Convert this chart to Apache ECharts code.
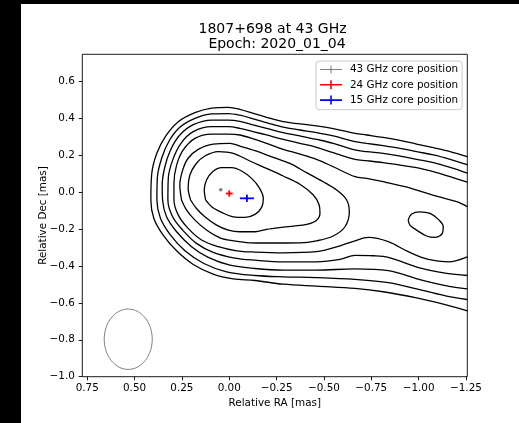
<!DOCTYPE html>
<html><head><meta charset="utf-8">
<script src="https://cdn.jsdelivr.net/npm/echarts@6/dist/echarts.min.js"></script>
<style>
html,body{margin:0;padding:0;background:#000;width:519px;height:423px;overflow:hidden;}
#bg{position:absolute;left:21px;top:4px;width:498px;height:419px;background:#fff;}
#chart{position:absolute;left:0;top:0;width:519px;height:423px;}
</style></head><body>
<div id="bg"></div><div id="chart"></div>
<script>
// ---- data (RA [mas], Dec [mas]) ----
const titleText = '1807+698 at 43 GHz \n Epoch: 2020_01_04';
const xTicks = [0.75, 0.5, 0.25, 0, -0.25, -0.5, -0.75, -1, -1.25];
const yTicks = [-1, -0.8, -0.6, -0.4, -0.2, 0, 0.2, 0.4, 0.6];

const contour1 = [[-1.257,0.192],[-1.166,0.219],[-1.078,0.240],[-0.989,0.260],[-0.901,0.280],[-0.813,0.296],[-0.725,0.309],[-0.664,0.318],[-0.549,0.343],[-0.461,0.358],[-0.373,0.369],[-0.285,0.381],[-0.197,0.405],[-0.136,0.423],[-0.056,0.448],[0.005,0.459],[0.093,0.454],[0.181,0.430],[0.269,0.381],[0.335,0.304],[0.384,0.206],[0.410,0.092],[0.414,-0.043],[0.398,-0.143],[0.349,-0.233],[0.278,-0.318],[0.190,-0.392],[0.085,-0.444],[-0.021,-0.470],[-0.136,-0.479],[-0.285,-0.499],[-0.461,-0.510],[-0.664,-0.522],[-0.813,-0.540],[-0.989,-0.573],[-1.130,-0.607],[-1.257,-0.643]];
const contour2 = [[-1.257,0.148],[-1.166,0.177],[-1.078,0.201],[-0.989,0.219],[-0.901,0.237],[-0.813,0.251],[-0.725,0.264],[-0.664,0.273],[-0.549,0.304],[-0.461,0.322],[-0.373,0.336],[-0.285,0.351],[-0.197,0.376],[-0.136,0.394],[-0.056,0.416],[0.005,0.425],[0.093,0.423],[0.181,0.399],[0.261,0.351],[0.317,0.278],[0.357,0.183],[0.380,0.074],[0.382,-0.043],[0.363,-0.143],[0.310,-0.233],[0.234,-0.318],[0.134,-0.387],[0.014,-0.432],[-0.136,-0.452],[-0.285,-0.459],[-0.461,-0.463],[-0.664,-0.473],[-0.840,-0.491],[-1.016,-0.531],[-1.148,-0.564],[-1.257,-0.582]];
const contour3 = [[-1.257,0.103],[-1.166,0.134],[-1.078,0.159],[-0.989,0.177],[-0.901,0.195],[-0.813,0.210],[-0.725,0.219],[-0.664,0.228],[-0.549,0.264],[-0.461,0.285],[-0.373,0.304],[-0.285,0.322],[-0.197,0.345],[-0.136,0.361],[-0.056,0.383],[0.005,0.390],[0.093,0.390],[0.190,0.365],[0.261,0.309],[0.310,0.228],[0.340,0.137],[0.354,0.038],[0.352,-0.043],[0.331,-0.134],[0.278,-0.215],[0.199,-0.296],[0.111,-0.354],[-0.004,-0.396],[-0.136,-0.414],[-0.285,-0.423],[-0.461,-0.423],[-0.664,-0.416],[-0.840,-0.426],[-1.016,-0.477],[-1.148,-0.508],[-1.257,-0.524]];
const contour4 = [[-1.257,0.054],[-1.166,0.083],[-1.078,0.110],[-0.989,0.132],[-0.901,0.146],[-0.813,0.159],[-0.725,0.170],[-0.664,0.177],[-0.549,0.213],[-0.461,0.242],[-0.373,0.264],[-0.285,0.285],[-0.197,0.309],[-0.136,0.325],[-0.056,0.345],[0.005,0.354],[0.093,0.354],[0.190,0.327],[0.255,0.264],[0.299,0.173],[0.322,0.074],[0.324,-0.043],[0.299,-0.134],[0.246,-0.206],[0.173,-0.278],[0.085,-0.327],[-0.021,-0.356],[-0.136,-0.369],[-0.285,-0.378],[-0.461,-0.378],[-0.585,-0.365],[-0.664,-0.343],[-0.761,-0.345],[-0.840,-0.354],[-1.016,-0.414],[-1.148,-0.441],[-1.257,-0.452]];
const contour5 = [[-1.257,-0.079],[-1.201,-0.052],[-1.104,-0.025],[-1.016,0.002],[-0.928,0.029],[-0.813,0.056],[-0.725,0.074],[-0.664,0.083],[-0.549,0.137],[-0.461,0.177],[-0.373,0.206],[-0.285,0.231],[-0.197,0.264],[-0.136,0.285],[-0.056,0.309],[0.005,0.314],[0.093,0.314],[0.181,0.291],[0.243,0.228],[0.278,0.146],[0.292,0.047],[0.292,-0.043],[0.269,-0.125],[0.217,-0.197],[0.146,-0.260],[0.058,-0.296],[-0.039,-0.318],[-0.136,-0.325],[-0.285,-0.329],[-0.461,-0.323],[-0.585,-0.291],[-0.664,-0.264],[-0.734,-0.246],[-0.840,-0.269],[-0.945,-0.323],[-1.051,-0.365],[-1.157,-0.378],[-1.257,-0.351]];
const contour6 = [[0.252,-0.043],[0.261,0.038],[0.246,0.119],[0.217,0.183],[0.164,0.231],[0.085,0.260],[-0.004,0.264],[-0.056,0.249],[-0.136,0.224],[-0.232,0.188],[-0.320,0.155],[-0.408,0.105],[-0.496,0.056],[-0.567,0.011],[-0.620,-0.043],[-0.634,-0.107],[-0.611,-0.188],[-0.549,-0.238],[-0.461,-0.264],[-0.373,-0.275],[-0.197,-0.276],[-0.109,-0.275],[-0.021,-0.264],[0.049,-0.248],[0.120,-0.206],[0.181,-0.152],[0.225,-0.098],[0.252,-0.043]];
const contour6b = [[-0.945,-0.152],[-0.963,-0.119],[-1.007,-0.107],[-1.060,-0.116],[-1.104,-0.148],[-1.130,-0.188],[-1.125,-0.224],[-1.086,-0.246],[-1.042,-0.238],[-0.989,-0.206],[-0.954,-0.179],[-0.945,-0.152]];
const contour7 = [[0.204,-0.043],[0.217,0.020],[0.208,0.092],[0.176,0.152],[0.129,0.195],[0.058,0.219],[-0.021,0.210],[-0.109,0.168],[-0.197,0.128],[-0.285,0.087],[-0.373,0.042],[-0.444,-0.016],[-0.475,-0.070],[-0.479,-0.116],[-0.458,-0.155],[-0.408,-0.175],[-0.338,-0.184],[-0.285,-0.190],[-0.197,-0.202],[-0.136,-0.215],[-0.056,-0.215],[0.005,-0.206],[0.067,-0.179],[0.129,-0.134],[0.173,-0.089],[0.204,-0.043]];
const contour8 = [[0.125,-0.043],[0.132,0.011],[0.120,0.065],[0.088,0.110],[0.040,0.132],[-0.012,0.132],[-0.065,0.114],[-0.118,0.074],[-0.158,0.024],[-0.180,-0.034],[-0.171,-0.083],[-0.136,-0.121],[-0.083,-0.137],[-0.021,-0.134],[0.040,-0.110],[0.093,-0.080],[0.125,-0.043]];

const coreNames = ['43 GHz core position', '24 GHz core position', '15 GHz core position'];
const coreRA = [0.045, 0.0, -0.093];
const coreDec = [0.0125, -0.008, -0.034];
const coreErrRA = [0.004, 0.018, 0.037];
const coreErrDec = [0.005, 0.017, 0.020];
const coreColors = ['#808080', '#ff0000', '#0000ff'];

const beamCenter = [0.5335, -0.797];
const beamSize = [0.2536, 0.327]; // full width in RA, full height in Dec

// ---- chart ----
const FONT = 'DejaVu Sans';
const contours = [contour1, contour2, contour3, contour4, contour5, contour6, contour6b, contour7, contour8];
const fmt = (v, d) => (v < 0 ? '\u2212' : '') + Math.abs(v).toFixed(d);

const series = contours.map((c, i) => ({
  type: 'line', name: 'contour' + i, data: c, symbol: 'none', smooth: 0.35,
  lineStyle: {color: '#000', width: 1.3}, silent: true, z: 2
}));

series.push({
  type: 'custom', name: 'beam', silent: true, z: 3,
  data: [[beamCenter[0], beamCenter[1], beamSize[0], beamSize[1]]],
  renderItem: (p, api) => {
    const c = api.coord([api.value(0), api.value(1)]);
    const s = api.size([api.value(2), api.value(3)], [api.value(0), api.value(1)]);
    return {type: 'ellipse', shape: {cx: c[0], cy: c[1], rx: s[0] / 2, ry: s[1] / 2},
      style: {fill: 'none', stroke: '#808080', lineWidth: 1}};
  }
});

coreNames.forEach((name, i) => {
  const col = coreColors[i];
  const lw = i === 0 ? 1.2 : 1.8;
  series.push({
    type: 'custom', name: name, z: 5, silent: true,
    itemStyle: {color: col},
    data: [[coreRA[i], coreDec[i], coreErrRA[i], coreErrDec[i]]],
    renderItem: (p, api) => {
      const x = api.value(0), y = api.value(1), ex = api.value(2), ey = api.value(3);
      const c = api.coord([x, y]);
      const l = api.coord([x - ex, y]), r = api.coord([x + ex, y]);
      const t = api.coord([x, y + ey]), b = api.coord([x, y - ey]);
      return {type: 'group', children: [
        {type: 'line', shape: {x1: l[0], y1: l[1], x2: r[0], y2: r[1]}, style: {stroke: col, lineWidth: lw}},
        {type: 'line', shape: {x1: t[0], y1: t[1], x2: b[0], y2: b[1]}, style: {stroke: col, lineWidth: lw}},
        {type: 'circle', shape: {cx: c[0], cy: c[1], r: i === 0 ? 1.8 : 1.2}, style: {fill: col}}
      ]};
    }
  });
});

const iconThin = 'path://M0,4.5h22v1h-22z M10.5,1h1v8h-1z M9.8,4.2h2.4v1.6h-2.4z';
const iconThick = 'path://M0,4.2h22v1.6h-22z M10.2,0.5h1.6v9h-1.6z';

const chart = echarts.init(document.getElementById('chart'), null, {renderer: 'canvas'});
chart.setOption({
  animation: false,
  backgroundColor: 'transparent',
  textStyle: {fontFamily: FONT},
  grid: {left: 82.3, right: 51.7, top: 54.3, bottom: 46.3, show: true, borderColor: '#000', borderWidth: 0.9, backgroundColor: 'transparent'},
  xAxis: {
    type: 'value', min: -1.257, max: 0.776, inverse: true, position: 'bottom',
    name: 'Relative RA [mas]', nameLocation: 'middle', nameGap: 22, nameMoveOverlap: false,
    nameTextStyle: {fontFamily: FONT, fontSize: 10.4, color: '#000'},
    axisLine: {show: false, onZero: false}, splitLine: {show: false},
    axisTick: {show: true, inside: false, length: 3.6, lineStyle: {color: '#000', width: 0.9}, customValues: xTicks},
    axisLabel: {customValues: xTicks, margin: 7, fontFamily: FONT, fontSize: 10.4, color: '#000', formatter: v => fmt(v, 2)}
  },
  yAxis: {
    type: 'value', min: -1.0, max: 0.746, position: 'left',
    name: 'Relative Dec [mas]', nameLocation: 'middle', nameGap: 34, nameMoveOverlap: false,
    nameTextStyle: {fontFamily: FONT, fontSize: 10.4, color: '#000'},
    axisLine: {show: false, onZero: false}, splitLine: {show: false},
    axisTick: {show: true, inside: false, length: 3.6, lineStyle: {color: '#000', width: 0.9}, customValues: yTicks},
    axisLabel: {customValues: yTicks, margin: 7.5, fontFamily: FONT, fontSize: 10.4, color: '#000', formatter: v => fmt(v, 1)}
  },
  legend: {
    orient: 'vertical', left: 316, top: 61,
    data: [
      {name: coreNames[0], icon: iconThin},
      {name: coreNames[1], icon: iconThick},
      {name: coreNames[2], icon: iconThick}
    ],
    itemWidth: 22, itemHeight: 10, itemGap: 3.3, padding: [2.5, 4, 3.5, 4],
    backgroundColor: 'rgba(255,255,255,0.8)', borderColor: '#cccccc', borderWidth: 1, borderRadius: 3,
    selectedMode: false,
    textStyle: {fontFamily: FONT, fontSize: 10.4, color: '#000', lineHeight: 12, padding: [0, 0, 0, 3]}
  },
  graphic: [{
    type: 'text', x: 274.8, y: 21.7, silent: true,
    style: {text: titleText, fontFamily: FONT, fontSize: 14, lineHeight: 15.3, fill: '#000', textAlign: 'center', textVerticalAlign: 'top'}
  }],
  series: series
});
</script>
</body></html>
